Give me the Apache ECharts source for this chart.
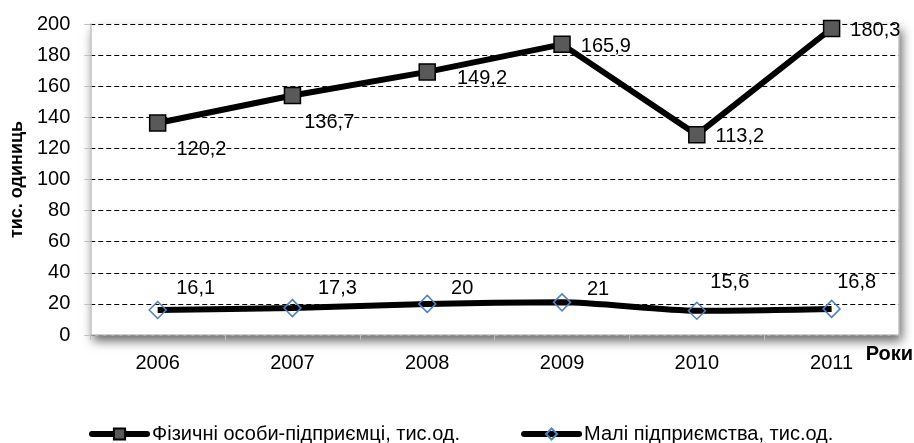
<!DOCTYPE html>
<html>
<head>
<meta charset="utf-8">
<script src="https://cdn.jsdelivr.net/npm/echarts@6/dist/echarts.min.js"></script>
<style>
html,body{margin:0;padding:0;background:#fff;}
#chart{width:914px;height:443px;}
</style>
</head>
<body>
<div id="chart"></div>
<script>
const years = ['2006', '2007', '2008', '2009', '2010', '2011'];
const physicalPersons = [120.2, 136.7, 149.2, 165.9, 113.2, 180.3];
const smallEnterprises = [16.1, 17.3, 20, 21, 15.6, 16.8];
const yTicks = [0, 20, 40, 60, 80, 100, 120, 140, 160, 180, 200];

const nameA = 'Фізичні особи-підприємці, тис.од.';
const nameB = 'Малі підприємства, тис.од.';

const FONT = 'Liberation Sans, Arial, sans-serif';

// label nudges (style only)
const shiftA = [[0, 26], [-7, 27], [11, 7], [0, 2], [0, 2], [0, 2]];
const shiftB = [[38, 3], [45, 5], [35, 9], [36, 11], [33, -4], [25, -2]];

const fmt = p => String(p.value).replace('.', ',');

const chart = echarts.init(document.getElementById('chart'));
chart.setOption({
  animation: false,
  backgroundColor: '#fff',
  textStyle: { fontFamily: FONT },
  grid: {
    left: 90, right: 15, top: 24, bottom: 108,
    show: true, backgroundColor: '#fff', borderWidth: 0,
    shadowColor: 'rgba(0,0,0,0.6)', shadowBlur: 10, shadowOffsetX: 3, shadowOffsetY: 6
  },
  legend: {
    left: 84, top: 419,
    itemWidth: 55, itemHeight: 14, itemGap: 61,
    data: [nameA, nameB],
    lineStyle: { width: 6, cap: 'round' },
    textStyle: { fontSize: 20, color: '#000', fontFamily: FONT }
  },
  graphic: [{
    type: 'text', right: 1, top: 344,
    style: { text: 'Роки', font: 'bold 20px ' + FONT, fill: '#000' }
  }],
  xAxis: {
    type: 'category',
    data: years,
    boundaryGap: true,
    axisLine: { show: true, lineStyle: { color: '#bfbfbf', width: 1.5 } },
    axisTick: { show: true, length: 5, lineStyle: { color: '#bfbfbf' } },
    axisLabel: { fontSize: 20, color: '#000', margin: 18, fontFamily: FONT },
    splitLine: { show: false }
  },
  yAxis: [{
    type: 'value',
    min: yTicks[0], max: yTicks[yTicks.length - 1], interval: yTicks[1] - yTicks[0],
    name: 'тис. одиниць',
    nameLocation: 'middle',
    nameGap: 63,
    nameTextStyle: { fontSize: 18, fontWeight: 'bold', color: '#000', fontFamily: FONT },
    axisLine: { show: true, lineStyle: { color: '#bfbfbf', width: 1.5 } },
    axisTick: { show: true, length: 6, lineStyle: { color: '#bfbfbf' } },
    axisLabel: { fontSize: 20, color: '#000', margin: 20, fontFamily: FONT },
    splitLine: { show: true, lineStyle: { color: '#000', width: 1, type: [5, 3] } }
  }, {
    type: 'value', position: 'right',
    min: yTicks[0], max: yTicks[yTicks.length - 1], interval: yTicks[1] - yTicks[0],
    axisLine: { show: true, lineStyle: { color: '#bfbfbf', width: 1.5 } },
    axisTick: { show: false }, axisLabel: { show: false }, splitLine: { show: false }
  }],
  series: [{
    name: nameB,
    type: 'line',
    stack: 'total',
    smooth: 0.25,
    data: smallEnterprises.map((v, i) => ({
      value: v,
      label: { offset: shiftB[i] }
    })),
    symbol: 'diamond',
    symbolSize: [17, 17],
    lineStyle: { color: '#000', width: 6 },
    itemStyle: { color: 'rgba(255,255,255,0)', borderColor: '#4f81bd', borderWidth: 1.5 },
    label: { show: true, position: 'top', distance: 5, fontSize: 20, color: '#000', fontFamily: FONT, formatter: fmt },
    z: 3
  }, {
    name: nameA,
    type: 'line',
    stack: 'total',
    data: physicalPersons.map((v, i) => ({
      value: v,
      label: { offset: shiftA[i] }
    })),
    symbol: 'rect',
    symbolSize: 16,
    lineStyle: { color: '#000', width: 6 },
    itemStyle: { color: '#595959', borderColor: '#000', borderWidth: 1.5 },
    label: { show: true, position: 'right', distance: 10, fontSize: 20, color: '#000', fontFamily: FONT, formatter: fmt },
    z: 4
  }]
});
</script>
</body>
</html>
